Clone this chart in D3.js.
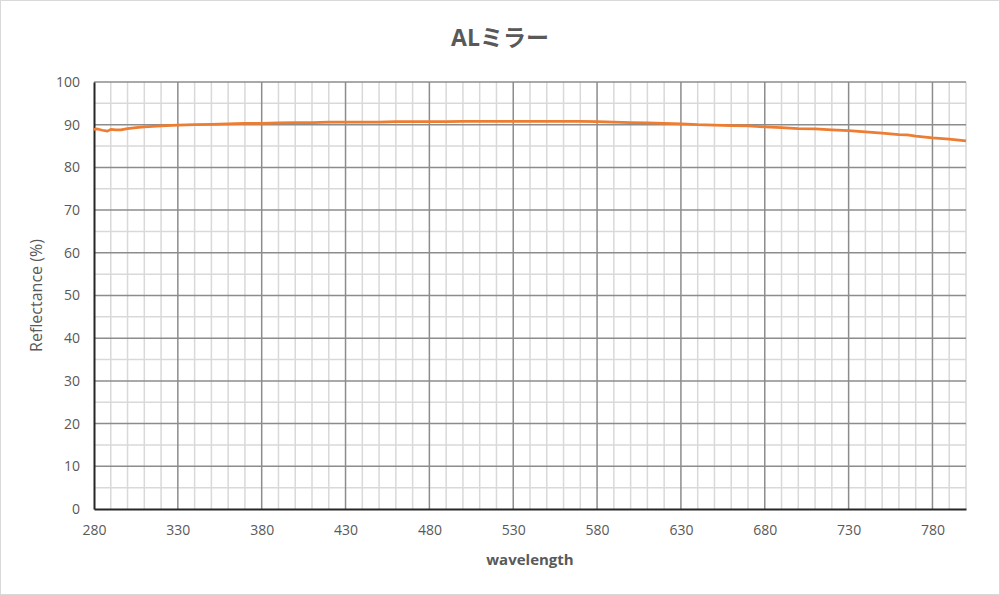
<!DOCTYPE html>
<html>
<head>
<meta charset="utf-8">
<script src="https://cdn.jsdelivr.net/npm/d3@7"></script>
<style>
  body { margin: 0; background: #fff; }
  text { font-family: "Open Sans", "Noto Sans", "Noto Sans CJK JP", sans-serif; fill: #595959; }
</style>
</head>
<body>
<svg id="chart" width="1000" height="595"></svg>
<script>
var title = "ALミラー";
var xLabel = "wavelength";
var yLabel = "Reflectance (%)";

var xTicks = [280, 330, 380, 430, 480, 530, 580, 630, 680, 730, 780];
var yTicks = [0, 10, 20, 30, 40, 50, 60, 70, 80, 90, 100];

// reflectance
var wavelength = [280, 282, 285, 288, 290, 293, 296, 300, 305, 310, 315, 320, 330, 340, 350,
  360, 370, 380, 390, 400, 410, 420, 430, 440, 450, 460, 470, 480, 490, 500,
  510, 520, 530, 540, 550, 560, 570, 580, 590, 600, 610, 620, 630, 640, 650,
  660, 670, 680, 690, 700, 710, 720, 730, 740, 750, 760, 765, 770, 780, 790, 800];
var reflectance = [88.9, 89.0, 88.7, 88.5, 88.9, 88.8, 88.8, 89.1, 89.3, 89.5, 89.6, 89.7, 89.9, 90.0, 90.1,
  90.2, 90.3, 90.3, 90.4, 90.5, 90.5, 90.6, 90.6, 90.6, 90.6, 90.7, 90.7, 90.7, 90.7, 90.8,
  90.8, 90.8, 90.8, 90.8, 90.8, 90.8, 90.8, 90.7, 90.6, 90.5, 90.4, 90.3, 90.2, 90.0, 89.9,
  89.8, 89.7, 89.5, 89.3, 89.1, 89.0, 88.8, 88.6, 88.3, 88.0, 87.7, 87.6, 87.3, 86.9, 86.6, 86.2];

var margin = {top: 82, right: 34, bottom: 86, left: 94},
    width = 1000 - margin.left - margin.right,
    height = 595 - margin.top - margin.bottom;

var svg = d3.select("#chart");

// outer frame
svg.append("rect")
    .attr("x", 0.5).attr("y", 0.5)
    .attr("width", 999).attr("height", 594)
    .attr("fill", "none")
    .attr("stroke", "#d9d9d9");

var g = svg.append("g")
    .attr("transform", "translate(" + margin.left + "," + margin.top + ")");

var x = d3.scaleLinear().domain([280, 800]).range([0, width]),
    y = d3.scaleLinear().domain([0, 100]).range([height, 0]);

// minor grid
g.append("g").selectAll("line")
    .data(d3.range(290, 801, 10).filter(function(d) { return (d - 280) % 50 != 0; }))
    .enter().append("line")
    .attr("x1", function(d) { return x(d); }).attr("x2", function(d) { return x(d); })
    .attr("y1", 0).attr("y2", height)
    .attr("stroke", "#d9d9d9").attr("stroke-width", 1.5);

g.append("g").selectAll("line")
    .data(d3.range(5, 100, 10))
    .enter().append("line")
    .attr("x1", 0).attr("x2", width)
    .attr("y1", function(d) { return y(d); }).attr("y2", function(d) { return y(d); })
    .attr("stroke", "#d9d9d9").attr("stroke-width", 1.5);

// major grid
g.append("g").selectAll("line")
    .data(xTicks.slice(1))
    .enter().append("line")
    .attr("x1", function(d) { return x(d); }).attr("x2", function(d) { return x(d); })
    .attr("y1", 0).attr("y2", height)
    .attr("stroke", "#8c8c8c").attr("stroke-width", 1.5);

g.append("g").selectAll("line")
    .data(yTicks.slice(1))
    .enter().append("line")
    .attr("x1", 0).attr("x2", width)
    .attr("y1", function(d) { return y(d); }).attr("y2", function(d) { return y(d); })
    .attr("stroke", "#8c8c8c").attr("stroke-width", 1.5);

// axes
var xAxis = d3.axisBottom(x).tickValues(xTicks).tickSize(0).tickPadding(16);
var yAxis = d3.axisLeft(y).tickValues(yTicks).tickSize(0).tickPadding(14);

g.append("g")
    .attr("transform", "translate(0," + height + ")")
    .call(xAxis)
    .call(function(s) { s.select(".domain").attr("stroke", "#262626").attr("stroke-width", 2); })
    .selectAll("text")
    .attr("font-size", "14px")
    .attr("fill", "#595959");

g.append("g")
    .call(yAxis)
    .call(function(s) { s.select(".domain").attr("stroke", "#262626").attr("stroke-width", 2); })
    .selectAll("text")
    .attr("font-size", "14px")
    .attr("fill", "#595959");

var line = d3.line()
    .x(function(d) { return x(d[0]); })
    .y(function(d) { return y(d[1]); });

g.append("path")
    .datum(d3.zip(wavelength, reflectance))
    .attr("fill", "none")
    .attr("stroke", "#ED7D31")
    .attr("stroke-width", 2.75)
    .attr("stroke-linejoin", "round")
    .attr("d", line);

svg.append("text")
    .attr("x", 500).attr("y", 46)
    .attr("text-anchor", "middle")
    .attr("font-size", "23px")
    .attr("font-weight", "bold")
    .text(title);

svg.append("text")
    .attr("x", margin.left + width / 2).attr("y", 565)
    .attr("text-anchor", "middle")
    .attr("font-size", "15px")
    .attr("font-weight", "bold")
    .text(xLabel);

svg.append("text")
    .attr("transform", "translate(42," + (margin.top + height / 2) + ") rotate(-90)")
    .attr("text-anchor", "middle")
    .attr("font-size", "16px")
    .text(yLabel);
</script>
</body>
</html>
